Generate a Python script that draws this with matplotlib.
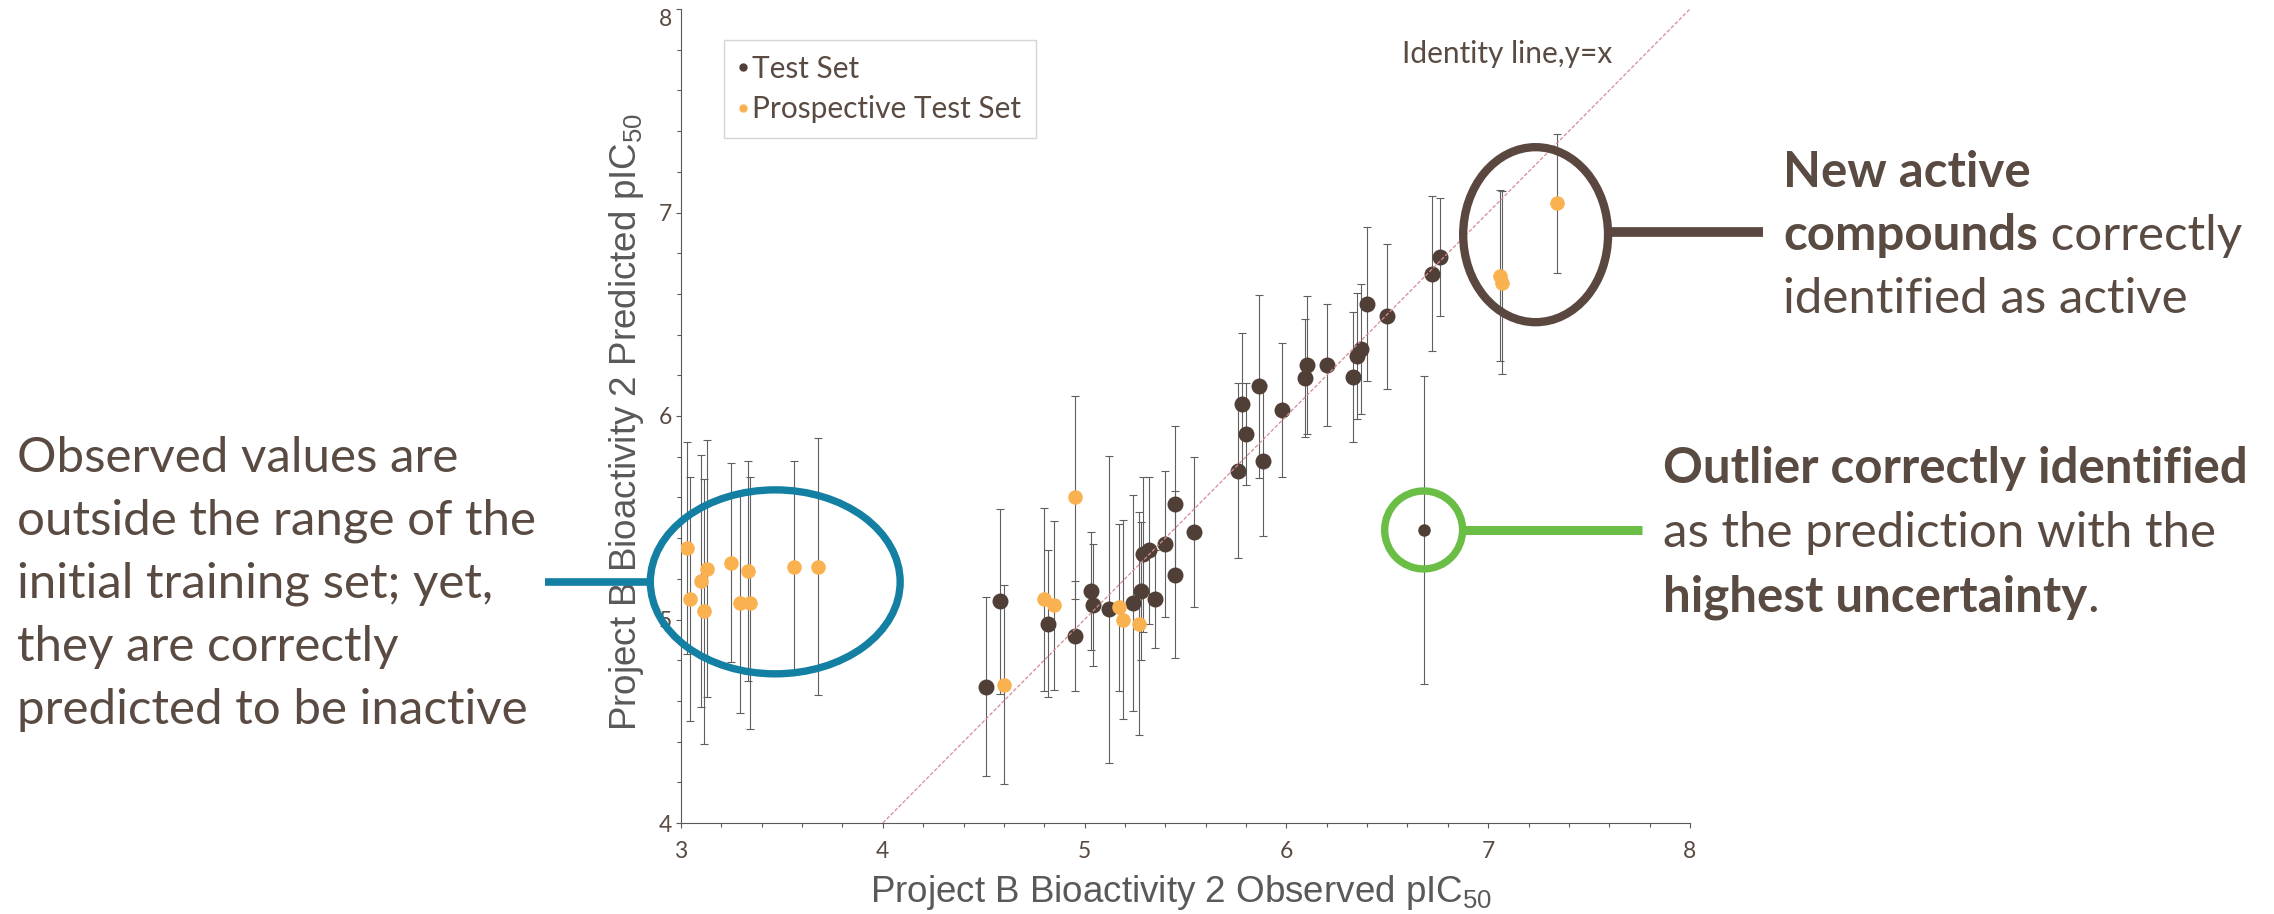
import matplotlib
matplotlib.use("Agg")
import matplotlib.pyplot as plt
from matplotlib.patches import Ellipse
from matplotlib.lines import Line2D

# ==============================
# Data (observed vs predicted pIC50, symmetric prediction uncertainty)
# ==============================
test_obs = [4.51, 4.58, 4.82, 4.95, 5.03, 5.04, 5.12, 5.24, 5.28, 5.29, 5.32,
            5.35, 5.40, 5.45, 5.45, 5.54, 5.76, 5.78, 5.80, 5.865, 5.885, 5.98,
            6.09, 6.10, 6.20, 6.33, 6.35, 6.37, 6.40, 6.50, 6.72, 6.76]
test_pred = [4.67, 5.09, 4.98, 4.92, 5.14, 5.07, 5.05, 5.08, 5.14, 5.32, 5.34,
             5.10, 5.37, 5.57, 5.22, 5.43, 5.73, 6.06, 5.91, 6.145, 5.78, 6.03,
             6.185, 6.25, 6.25, 6.19, 6.295, 6.33, 6.55, 6.49, 6.70, 6.78]
test_err = [0.44, 0.455, 0.36, 0.27, 0.29, 0.30, 0.755, 0.53, 0.34, 0.38, 0.36,
            0.24, 0.36, 0.38, 0.41, 0.37, 0.43, 0.35, 0.25, 0.45, 0.37, 0.33,
            0.29, 0.34, 0.30, 0.32, 0.31, 0.32, 0.38, 0.355, 0.38, 0.29]

prosp_obs = [3.03, 3.045, 3.10, 3.115, 3.13, 3.25, 3.29, 3.33, 3.34, 3.56, 3.68,
             4.60, 4.80, 4.85, 4.95, 5.17, 5.19, 5.27, 7.06, 7.07, 7.34]
prosp_pred = [5.35, 5.10, 5.19, 5.04, 5.25, 5.28, 5.08, 5.24, 5.08, 5.26, 5.26,
              4.68, 5.10, 5.07, 5.60, 5.06, 5.00, 4.98, 6.69, 6.655, 7.045]
prosp_err = [0.52, 0.60, 0.62, 0.65, 0.63, 0.49, 0.54, 0.54, 0.62, 0.52, 0.63,
             0.49, 0.45, 0.415, 0.50, 0.41, 0.49, 0.55, 0.42, 0.45, 0.34]

outlier_obs = [6.68]
outlier_pred = [5.44]
outlier_err = [0.757]

x_ticks = [3, 4, 5, 6, 7, 8]
y_ticks = [4, 5, 6, 7, 8]

DARK = "#4f3f37"
ORANGE = "#f9b24f"
TXT = "#594a42"
GREY = "#595959"

plt.rcParams["font.family"] = ["Lato", "DejaVu Sans"]
plt.rcParams["mathtext.fontset"] = "custom"
plt.rcParams["mathtext.rm"] = "Liberation Sans"
plt.rcParams["mathtext.it"] = "Liberation Sans:italic"

W, H = 2274, 914
fig = plt.figure(figsize=(W / 100, H / 100), dpi=100)
ax = fig.add_axes([681 / W, 1 - 823 / H, 1009 / W, 814 / H])

# error bars first, then the dots on top
eb = dict(fmt="none", ecolor="#5f5f5f", elinewidth=0.8, capsize=3, capthick=0.8, zorder=2)
ax.errorbar(test_obs, test_pred, yerr=test_err, **eb)
ax.errorbar(prosp_obs, prosp_pred, yerr=prosp_err, **eb)
ax.errorbar(outlier_obs, outlier_pred, yerr=outlier_err, **eb)

ax.plot(test_obs, test_pred, "o", color=DARK, markersize=11.5, markeredgewidth=0, zorder=3)
ax.plot(prosp_obs, prosp_pred, "o", color=ORANGE, markersize=10.5, markeredgewidth=0, zorder=3)
ax.plot(outlier_obs, outlier_pred, "o", color=DARK, markersize=9, markeredgewidth=0, zorder=3)

# identity line y = x
ax.plot([4, 8], [4, 8], color="#d98a94", lw=0.9, ls=(0, (3, 1.5)), zorder=4)
ax.text(6.571, 7.736, "Identity line,y=x", fontsize=21.5, color=TXT, ha="left", va="baseline")

ax.set_xlim(3, 8)
ax.set_ylim(4, 8)
ax.set_xticks(x_ticks)
ax.set_yticks(y_ticks)
ax.set_xticks([v / 5 for v in range(15, 41)], minor=True)
ax.set_yticks([v / 5 for v in range(20, 41)], minor=True)
ax.tick_params(which="both", direction="out", color=GREY, width=0.8, labelcolor=TXT, labelsize=16.5)
ax.tick_params(which="major", length=3.6)
ax.tick_params(which="minor", length=3)
ax.tick_params(axis="x", pad=9)
ax.tick_params(axis="y", pad=3)
ax.get_yticklabels()[-1].set_verticalalignment("top")
for s in ["top", "right"]:
    ax.spines[s].set_visible(False)
for s in ["left", "bottom"]:
    ax.spines[s].set_color(GREY)
    ax.spines[s].set_linewidth(0.8)

ax.set_xlabel("Project B Bioactivity 2 Observed pIC$_{50}$", fontsize=26.5,
              family="Liberation Sans", color=GREY, va="top")
ax.xaxis.set_label_coords(0.4955, -0.062)
ax.set_ylabel("Project B Bioactivity 2 Predicted pIC$_{50}$", fontsize=26.5,
              family="Liberation Sans", color=GREY)
ax.yaxis.set_label_coords(-0.035, 0.493)

handles = [Line2D([], [], ls="", marker="o", color=DARK, markersize=5),
           Line2D([], [], ls="", marker="o", color=ORANGE, markersize=5)]
leg = ax.legend(handles, ["Test Set", "Prospective Test Set"], loc="upper left",
                bbox_to_anchor=(0.0426, 0.962), borderaxespad=0, fontsize=21.5,
                handlelength=0.3, handletextpad=0.15, borderpad=0.5, labelspacing=0.42,
                fancybox=False, framealpha=1, edgecolor="#d5d5d5", labelcolor=TXT)
leg.get_frame().set_linewidth(1)

# ==============================
# Call-outs
# ==============================
ax.add_patch(Ellipse((3.467, 5.185), 1.238, 0.904, fill=False, ec="#127fa3", lw=5.3, clip_on=False, zorder=5))
ax.add_patch(Ellipse((7.235, 6.891), 0.718, 0.86, fill=False, ec="#5a4840", lw=6, clip_on=False, zorder=5))
ax.add_patch(Ellipse((6.680, 5.44), 0.386, 0.383, fill=False, ec="#6abd45", lw=5.3, clip_on=False, zorder=5))


def hline(x0, x1, y, color, lw):
    fig.add_artist(Line2D([x0 / W, x1 / W], [1 - y / H, 1 - y / H], color=color, lw=lw,
                          solid_capstyle="butt", transform=fig.transFigure))


hline(545, 651, 581.7, "#127fa3", 5.5)
hline(1610, 1763, 231.7, "#5a4840", 7)
hline(1463, 1642, 530, "#6abd45", 6.5)

renderer = fig.canvas.get_renderer()


def note_line(x, y, parts, size=35.5):
    for txt, weight in parts:
        t = fig.text(x / W, 1 - y / H, txt, fontsize=size, fontweight=weight,
                     color=TXT, ha="left", va="baseline")
        x += t.get_window_extent(renderer).width


left_lines = ["Observed values are", "outside the range of the", "initial training set; yet,",
              "they are correctly", "predicted to be inactive"]
for i, line in enumerate(left_lines):
    note_line(17, 471.7 + i * 63, [(line, "normal")])

note_line(1783, 187, [("New active", "bold")])
note_line(1783, 250, [("compounds", "bold"), (" correctly", "normal")])
note_line(1783, 313, [("identified as active", "normal")])

note_line(1663, 483, [("Outlier correctly identified", "bold")])
note_line(1663, 547, [("as the prediction with the", "normal")])
note_line(1663, 612, [("highest uncertainty", "bold"), (".", "normal")])

fig.savefig("out.png", dpi=100)
